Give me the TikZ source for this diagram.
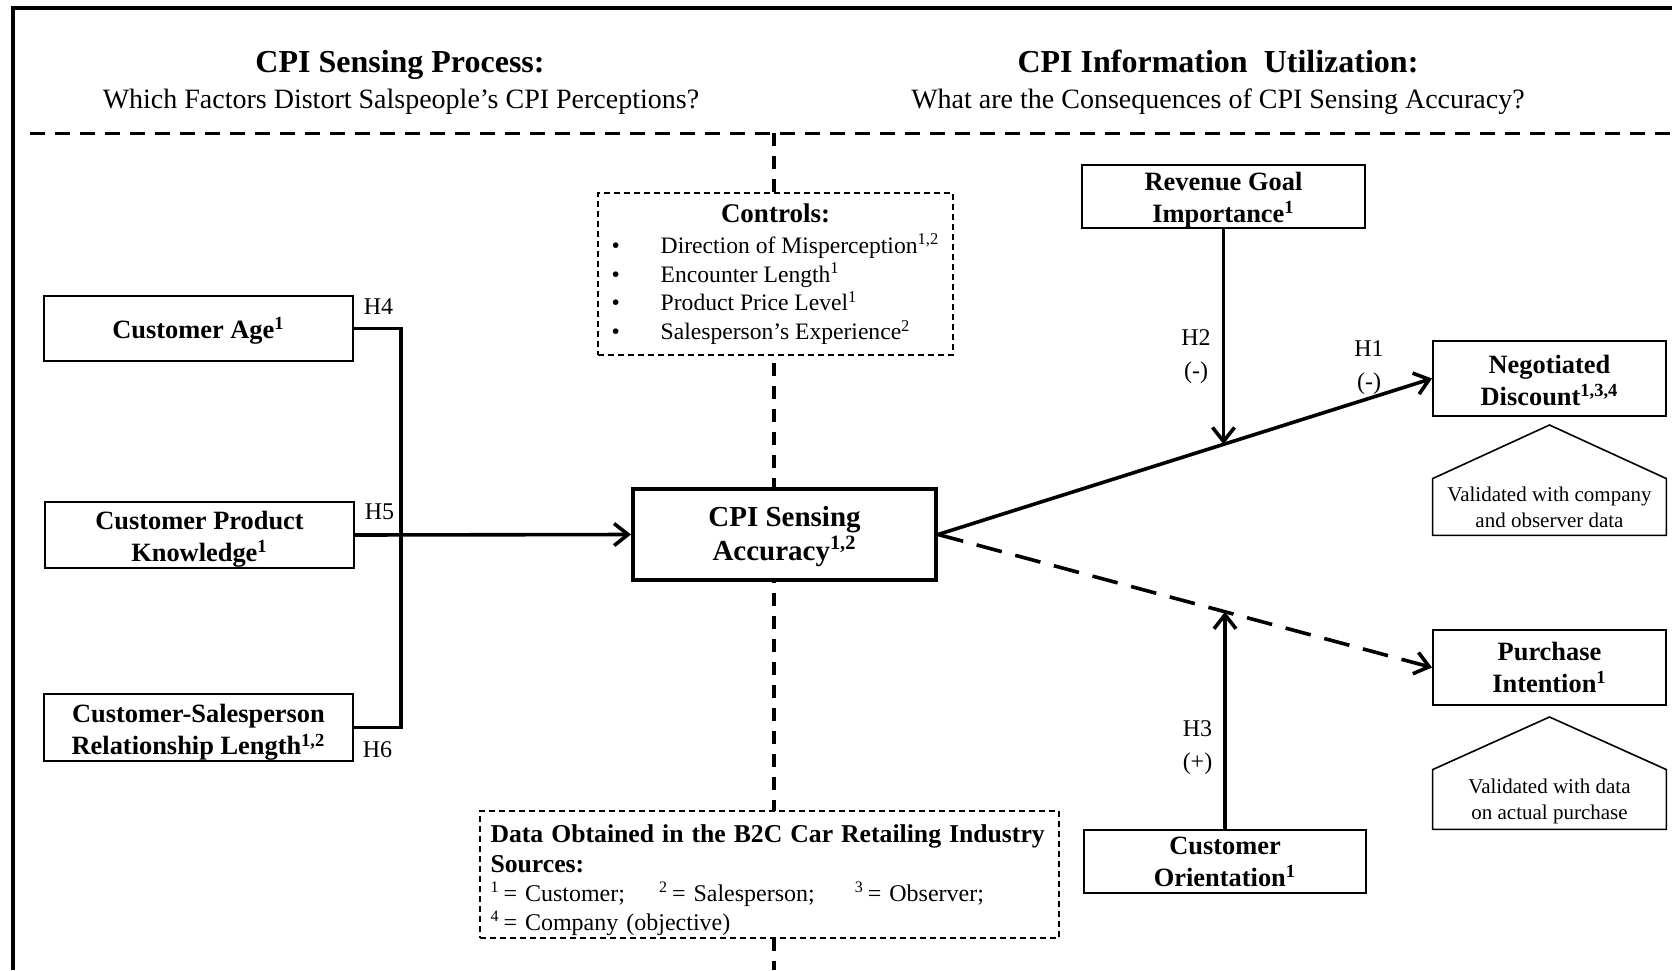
\documentclass[tikz,border=0pt]{standalone}
\usepackage{fontspec}
\setmainfont{Liberation Serif}
\usepackage{tikz}
\usetikzlibrary{positioning, arrows.meta, calc}

\newcommand{\dropline}[1]{\rule{0pt}{#1}}

\begin{document}
\begin{tikzpicture}[
      x=0.5pt, y=-0.5pt,
      box/.style={
        draw,
        fill=white,
        line width=1pt,
        align=center,
        inner sep=2pt,
        font=\fontsize{13.2}{16}\selectfont\bfseries
      },
      dashbox/.style={
        draw,
        fill=white,
        line width=0.9pt,
        dash pattern=on 3pt off 2pt,
        inner sep=2pt
      },
      link/.style={
        line width=1.8pt
      },
      arrow/.style={
        -{Straight Barb[length=7pt, width=11pt]},
        line width=1.8pt
      },
      divider/.style={
        line width=1.5pt,
        dash pattern=on 7.5pt off 5pt
      },
      hyp/.style={
        align=center,
        inner sep=0pt,
        font=\fontsize{12}{16.5}\selectfont
      },
      note/.style={
        align=center,
        inner sep=0pt,
        font=\fontsize{10.5}{13}\selectfont
      },
      valline/.style={
        line width=0.8pt
      }
    ]

    \useasboundingbox (0,0) rectangle (1672,970);

    % frame and section lines
    \draw[line width=2pt] (13,970) -- (13,8) -- (1672,8);
    \draw[divider] (30,133) -- (1672,133);
    \draw[divider, line width=1.6pt, dash pattern=on 6.5pt off 5pt] (774,133) -- (774,970);

    \node[anchor=base, font=\fontsize{16}{18}\selectfont\bfseries] (lefthead) at (400,72) {CPI Sensing Process:};
    \node[anchor=base, font=\fontsize{14}{16}\selectfont] (leftsub) at (401,108) {Which Factors Distort Salspeople’s CPI Perceptions?};

    \node[anchor=base, font=\fontsize{16}{18}\selectfont\bfseries] (righthead) at (1218,72) {CPI Information\ \ Utilization:};
    \node[anchor=base, font=\fontsize{14}{16}\selectfont] (rightsub) at (1218,108) {What are the Consequences of CPI Sensing Accuracy?};

    % antecedents
    \node[box, minimum width=154.5pt, minimum height=32.5pt] (age) at (198.5,328.5) {\dropline{12.5pt}Customer Age\textsuperscript{1}};

    \node[box, inner sep=0pt, minimum width=154.5pt, minimum height=33pt] (know) at (199.5,535) {\dropline{13.5pt}Customer Product\\Knowledge\textsuperscript{1}};

    \node[box, inner sep=0pt, minimum width=154.5pt, minimum height=33.5pt] (rel) at (198.5,727.5) {\dropline{14.3pt}Customer-Salesperson\\Relationship Length\textsuperscript{1,2}};

    \node[box, line width=2pt, minimum width=151.5pt, minimum height=45.5pt,
          font=\fontsize{14.5}{17}\selectfont\bfseries] (cpi) at (784.5,534.5) {\dropline{12pt}CPI Sensing\\Accuracy\textsuperscript{1,2}};

    \node[hyp] (h4) at (378.5,307) {H4};
    \node[hyp] (h5) at (379.5,512) {H5};
    \node[hyp] (h6) at (377.5,750) {H6};

    \coordinate (joint) at (401,535);
    \draw[link] (age.east) -| (joint) |- (rel.east);
    \draw[arrow] (know.east) -- (cpi.west);

    % controls and data
    \node[dashbox, minimum width=177.5pt, minimum height=81pt,
          font=\fontsize{11.8}{14.4}\selectfont] (controls) at (775.5,274) {%
      \begin{tabular}{@{}l@{}}
        \multicolumn{1}{@{}c@{}}{\fontsize{13.5}{16}\selectfont\bfseries\dropline{11.5pt}Controls:}\\[1pt]
        \makebox[24.5pt][l]{\textbullet}Direction of Misperception\textsuperscript{1,2}\\
        \makebox[24.5pt][l]{\textbullet}Encounter Length\textsuperscript{1}\\
        \makebox[24.5pt][l]{\textbullet}Product Price Level\textsuperscript{1}\\
        \makebox[24.5pt][l]{\textbullet}Salesperson’s Experience\textsuperscript{2}
      \end{tabular}};

    \node[dashbox, align=left, text width=279pt, inner xsep=5.25pt, inner ysep=0pt, minimum height=63.5pt,
          font=\fontsize{12}{14.6}\selectfont] (data) at (769.5,874.5) {%
      {\fontsize{12.85}{16}\selectfont\bfseries\dropline{14.8pt}\mbox{Data Obtained in the B2C Car Retailing Industry}}\\
      {\fontsize{12.85}{15}\selectfont\bfseries Sources:}\\
      \textsuperscript{1}\,= Customer;\hspace{17pt}\textsuperscript{2}\,= Salesperson;\hspace{20pt}\textsuperscript{3}\,= Observer;\\
      \textsuperscript{4}\,= Company (objective)};

    % outcomes
    \node[box, inner sep=0pt, minimum width=141.5pt, minimum height=31.5pt] (revenue) at (1223.5,196.5) {\dropline{12.6pt}Revenue Goal\\Importance\textsuperscript{1}};

    \node[box, minimum width=141pt, minimum height=31.5pt] (orient) at (1225,861.5) {Customer\\Orientation\textsuperscript{1}};

    \node[box, minimum width=116.5pt, minimum height=37.5pt] (negdisc) at (1549.5,378.5) {\dropline{11pt}Negotiated\\Discount\textsuperscript{1,3,4}};

    \node[box, minimum width=116.5pt, minimum height=37.5pt] (purch) at (1549.5,667.5) {Purchase\\Intention\textsuperscript{1}};

    \path (cpi.east) -- (negdisc.west) coordinate[pos=0.578] (revhit);
    \path (cpi.east) -- (purch.west) coordinate[pos=0.5815] (orienthit);

    \draw[arrow] (cpi.east) -- (negdisc.west);
    \draw[arrow, dash pattern=on 13pt off 7pt] (cpi.east) -- (purch.west);
    \draw[arrow] (revenue.south) -- (revenue.south |- revhit);
    \draw[arrow] (orient.north) -- (orient.north |- orienthit);

    \node[hyp] (h2) at (1196,357) {H2\\(-)};
    \node[hyp] (h1) at (1369,368) {H1\\(-)};
    \node[hyp] (h3) at (1197.5,748) {H3\\(+)};

    % validation notes
    \node[note, minimum width=116.5pt, minimum height=28pt] (negval) at (1549.5,507) {Validated with company\\and observer data};
    \coordinate (negapex) at (1549.5,425);
    \draw[valline] (negval.north west) -- (negapex) -- (negval.north east) -- (negval.south east) -- (negval.south west) -- cycle;

    \node[note, minimum width=116.5pt, minimum height=29.5pt] (purchval) at (1549.5,799.5) {\dropline{9.5pt}Validated with data\\on actual purchase};
    \coordinate (purchapex) at (1549.5,717);
    \draw[valline] (purchval.north west) -- (purchapex) -- (purchval.north east) -- (purchval.south east) -- (purchval.south west) -- cycle;

    \end{tikzpicture}
\end{document}
